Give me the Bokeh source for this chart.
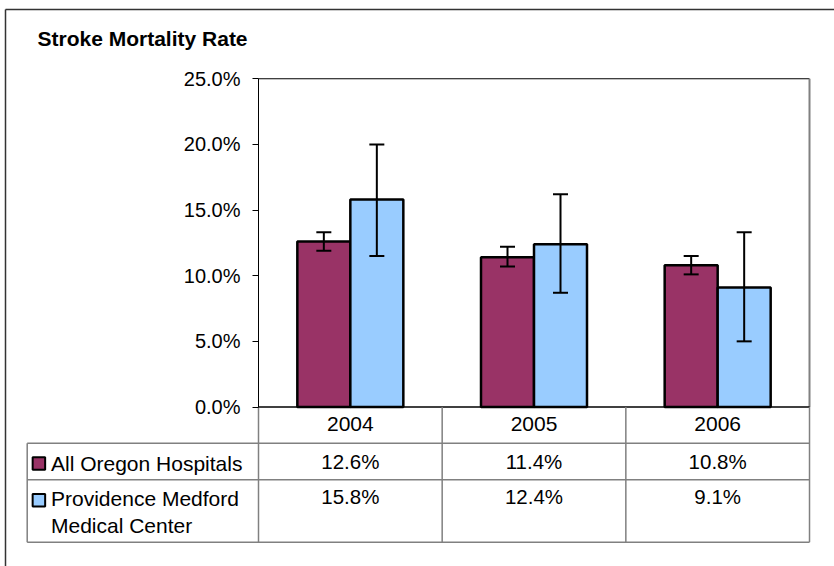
import numpy as np
from bokeh.plotting import figure
from bokeh.models import (LinearAxis, FixedTicker, PrintfTickFormatter, Range1d,
                          Whisker, TeeHead, ColumnDataSource)
from bokeh.core.properties import value
from bokeh.embed import file_html
from bokeh.resources import INLINE

# ---------------- data ----------------
title_text = "Stroke Mortality Rate"
years = ["2004", "2005", "2006"]
series_names = ["All Oregon Hospitals", "Providence Medford Medical Center"]
oregon = [12.6, 11.4, 10.8]
oregon_lower = [11.9, 10.7, 10.1]
oregon_upper = [13.3, 12.2, 11.5]
providence = [15.8, 12.4, 9.1]
providence_lower = [11.5, 8.7, 5.0]
providence_upper = [20.0, 16.2, 13.3]
y_ticks = [0, 5, 10, 15, 20, 25]

# ---------------- layout constants ----------------
W, H = 834, 566
AX_X = 258.0          # canvas x of y-axis (column boundary 0)
CW = 183.67           # px per column
ZERO_Y = 406.5        # canvas y of 0 %
PPU = 13.13           # px per percent
TDY = -8.0            # baseline correction for text glyphs
FONT = value("Liberation Sans")
MAROON = "#993366"
BLUE = "#99CCFF"
GRID = "#808080"


def px2x(px):
    return (px - AX_X) / CW


def px2y(py):
    return (ZERO_Y - py) / PPU


def ty(py):
    return px2y(py + TDY)


p = figure(width=W, height=H, output_backend="svg", toolbar_location=None,
           x_range=Range1d(px2x(0), px2x(W)), y_range=Range1d(px2y(H), px2y(0)),
           x_axis_type=None, y_axis_type=None, min_border=0,
           background_fill_color="white", border_fill_color="white")
p.outline_line_color = None

# y axis
yax = LinearAxis(fixed_location=0, bounds=(0, 25),
                 ticker=FixedTicker(ticks=y_ticks),
                 formatter=PrintfTickFormatter(format="%.1f%%"))
yax.major_tick_out = 6
yax.major_tick_in = 0
yax.minor_tick_out = 0
yax.minor_tick_in = 0
yax.major_label_standoff = 12
yax.major_label_text_font = "Liberation Sans"
yax.major_label_text_font_size = "20px"
yax.major_label_text_color = "black"
yax.axis_line_color = "black"
yax.major_tick_line_color = "black"
p.add_layout(yax, "left")

ncat = len(years)
centers = np.arange(ncat) + 0.5
bw = 53.0 / CW

# plot area border
p.segment(x0=[0], y0=[25], x1=[ncat], y1=[25], line_color="black", line_width=1)
p.segment(x0=[ncat], y0=[0], x1=[ncat], y1=[25], line_color=GRID, line_width=2)

# bars
src_o = ColumnDataSource(dict(x=centers - bw / 2, top=oregon, lo=oregon_lower, hi=oregon_upper))
src_p = ColumnDataSource(dict(x=centers + bw / 2, top=providence, lo=providence_lower, hi=providence_upper))
p.vbar(x="x", top="top", width=bw, bottom=0, source=src_o, fill_color=MAROON,
       line_color="black", line_width=2.5)
p.vbar(x="x", top="top", width=bw, bottom=0, source=src_p, fill_color=BLUE,
       line_color="black", line_width=2.5)

for src in (src_o, src_p):
    wk = Whisker(base="x", upper="hi", lower="lo", source=src, line_color="black", line_width=2,
                 level="overlay",
                 upper_head=TeeHead(size=15, line_width=2, line_color="black"),
                 lower_head=TeeHead(size=15, line_width=2, line_color="black"))
    p.add_layout(wk)

# x axis line (bottom of plot area / top of table)
p.segment(x0=[0], y0=[0], x1=[ncat], y1=[0], line_color="black", line_width=1.5)

# table lines
t_left = px2x(26.7)
row_y = [px2y(442.7), px2y(479.3), px2y(541.7)]
p.segment(x0=[t_left] * 3, y0=row_y, x1=[ncat] * 3, y1=row_y, line_color=GRID, line_width=1.5)
vx = list(range(ncat + 1))
p.segment(x0=vx, y0=[0] * len(vx), x1=vx, y1=[row_y[2]] * len(vx), line_color=GRID, line_width=1.5)
p.segment(x0=[t_left], y0=[row_y[0]], x1=[t_left], y1=[row_y[2]], line_color=GRID, line_width=1.5)

# outer frame (left and top)
p.segment(x0=[px2x(5), px2x(5)], y0=[px2y(9), px2y(9)], x1=[px2x(5), px2x(W)],
          y1=[px2y(H), px2y(9)], line_color="#333333", line_width=1.5)

# title
p.text(x=[px2x(37)], y=[ty(45.7)], text=[title_text], text_font=FONT,
       text_font_size=value("21px"), text_font_style="bold", text_color="black",
       text_align="left", text_baseline="alphabetic")

# header years
p.text(x=centers, y=[ty(431)] * ncat, text=years, text_font=FONT,
       text_font_size=value("21px"), text_color="black", text_align="center",
       text_baseline="alphabetic")

# row values
p.text(x=centers, y=[ty(468.5)] * ncat, text=[f"{v:.1f}%" for v in oregon], text_font=FONT,
       text_font_size=value("20.5px"), text_color="black", text_align="center",
       text_baseline="alphabetic")
p.text(x=centers, y=[ty(504)] * ncat, text=[f"{v:.1f}%" for v in providence], text_font=FONT,
       text_font_size=value("20.5px"), text_color="black", text_align="center",
       text_baseline="alphabetic")

# row labels with legend keys
name2 = series_names[1].split(" ")
line1 = " ".join(name2[:2])
line2 = " ".join(name2[2:])
p.text(x=[px2x(50.5)] * 3, y=[ty(470.5), ty(506), ty(533.3)],
       text=[series_names[0], line1, line2], text_font=FONT,
       text_font_size=value("21px"), text_color="black", text_align="left",
       text_baseline="alphabetic")
key_x = px2x(38.4)
p.rect(x=[key_x, key_x], y=[px2y(463), px2y(499.7)], width=12.5 / CW, height=12.5 / PPU,
       fill_color=[MAROON, BLUE], line_color="black", line_width=2)

open("out.html", "w").write(file_html(p, INLINE))
